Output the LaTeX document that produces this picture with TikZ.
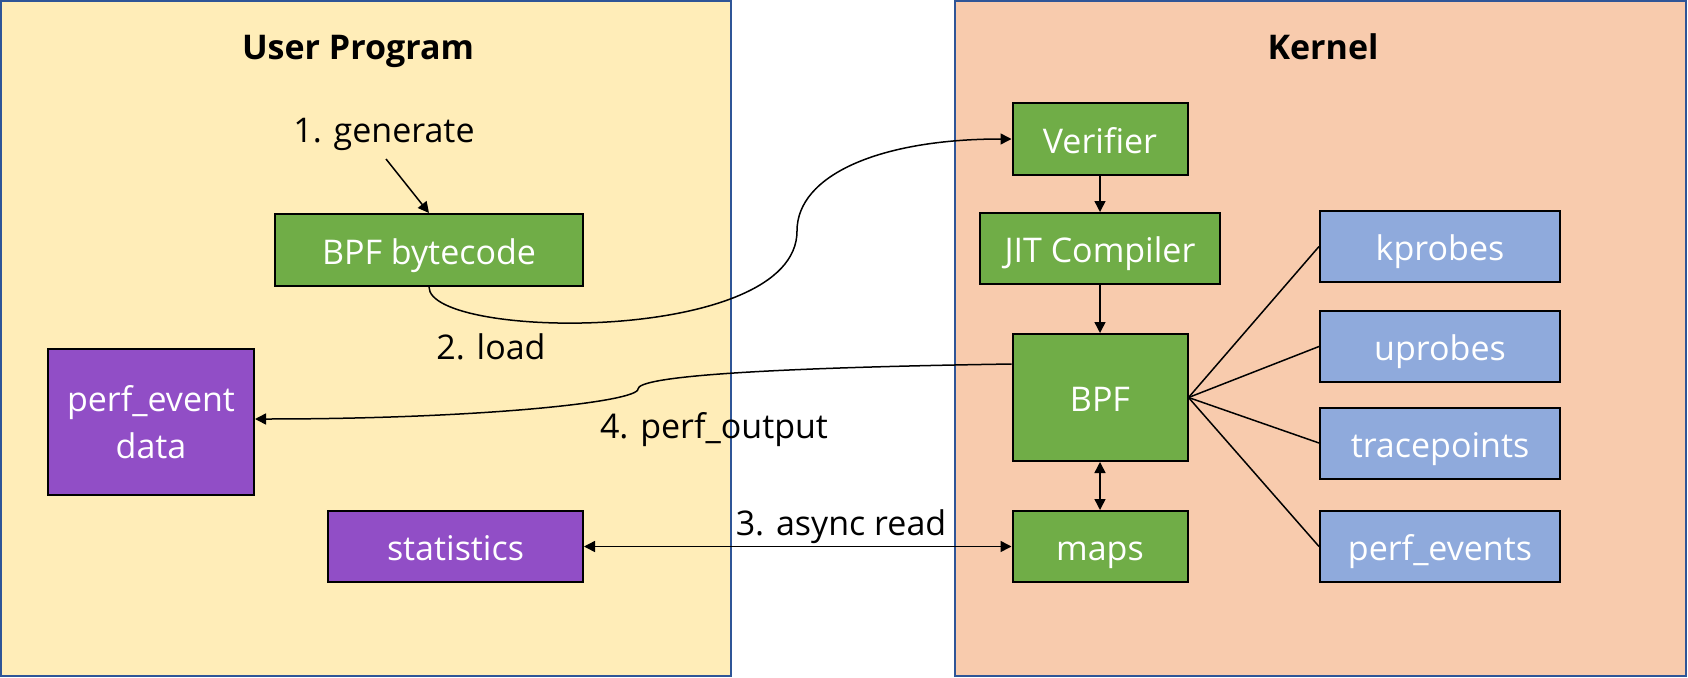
\documentclass[tikz,border=0pt]{standalone}
\usepackage{fontspec}
\setmainfont{Open Sans}
\usetikzlibrary{arrows.meta,calc}
\definecolor{panelY}{HTML}{FFEDB8}
\definecolor{panelO}{HTML}{F8CBAD}
\definecolor{panelB}{HTML}{2F5597}
\definecolor{bgreen}{HTML}{70AD47}
\definecolor{bpurple}{HTML}{914EC6}
\definecolor{bblue}{HTML}{8FAADC}
\begin{document}
\begin{tikzpicture}[x=1pt,y=-1pt,
  panel/.style={draw=panelB,line width=2pt,inner sep=0pt},
  box/.style={draw=black,line width=2pt,text=white,inner sep=0pt,font=\fontsize{34}{46}\selectfont},
  capc/.style={text height=24.3pt,text depth=0pt},
  capb/.style={text height=28.3pt,text depth=0pt},
  gbox/.style={box,capb,fill=bgreen},
  pbox/.style={box,fill=bpurple},
  bbox/.style={box,capb,fill=bblue,minimum width=240pt,minimum height=71pt},
  lbl/.style={inner sep=0pt,capc,font=\fontsize{34}{46}\selectfont},
  ttl/.style={inner sep=0pt,capc,font=\fontsize{34}{46}\selectfont\bfseries},
  conn/.style={line width=1.5pt},
  arr/.style={conn,-{Triangle[length=11pt,width=11pt]}},
  darr/.style={conn,{Triangle[length=11pt,width=11pt]}-{Triangle[length=11pt,width=11pt]}},
]
\useasboundingbox (0,0) rectangle (1688,677);
% panels
\node[panel,fill=panelY,minimum width=730pt,minimum height=675pt] (user) at (366,338.5) {};
\node[panel,fill=panelO,minimum width=731pt,minimum height=675pt] (kernel) at (1320.5,338.5) {};
\node[ttl] (usert) at (358,47) {User Program};
\node[ttl] (kernt) at (1323,47) {Kernel};
% user side
\node[gbox,minimum width=308pt,minimum height=72pt] (bytecode) at (429,250) {BPF bytecode};
\node[pbox,align=center,font=\fontsize{34}{47}\selectfont,minimum width=206pt,minimum height=146pt] (pdata) at (151,422) {perf\_event\\data};
\node[pbox,capb,minimum width=255pt,minimum height=71pt] (stats) at (455.5,546.5) {statistics};
% kernel side
\node[gbox,minimum width=175pt,minimum height=72pt] (verifier) at (1100,139) {Verifier};
\node[gbox,minimum width=240pt,minimum height=71pt] (jit) at (1100,248.5) {JIT Compiler};
\node[gbox,minimum width=175pt,minimum height=127pt] (bpf) at (1100,397.5) {BPF};
\node[gbox,minimum width=175pt,minimum height=71pt] (maps) at (1100,546.5) {maps};
\node[bbox] (kprobes) at (1440,246.5) {kprobes};
\node[bbox] (uprobes) at (1440,346.5) {uprobes};
\node[bbox] (tracep) at (1440,443) {tracepoints};
\node[bbox] (perfev) at (1440,546.5) {perf\_events};
% labels
\node[lbl] (gen) at (384,130) {1. generate};
\node[lbl] (load) at (491,347) {2. load};
\node[lbl] (pout) at (714,426.5) {4. perf\_output};
\node[lbl] (async) at (841,523) {3. async read};
\coordinate (g1) at (386,159);
% connectors
\draw[arr] (g1) -- (bytecode.north);
\draw[arr] (bytecode.south) .. controls (429,340) and (797,345) .. (797,231)
  .. controls (797,175) and (880,139) .. (verifier.west);
\draw[arr] ([yshift=33.5pt]bpf.west) .. controls (750,368) and (638,377) .. (638,389)
  .. controls (638,402) and (480,419) .. ([yshift=3pt]pdata.east);
\draw[arr] (verifier.south) -- (jit.north);
\draw[arr] (jit.south) -- (bpf.north);
\draw[darr] (bpf.south) -- (maps.north);
\draw[darr] (stats.east) -- (maps.west);
\draw[conn] (bpf.east) -- (kprobes.west);
\draw[conn] (bpf.east) -- (uprobes.west);
\draw[conn] (bpf.east) -- (tracep.west);
\draw[conn] (bpf.east) -- (perfev.west);
\end{tikzpicture}
\end{document}
